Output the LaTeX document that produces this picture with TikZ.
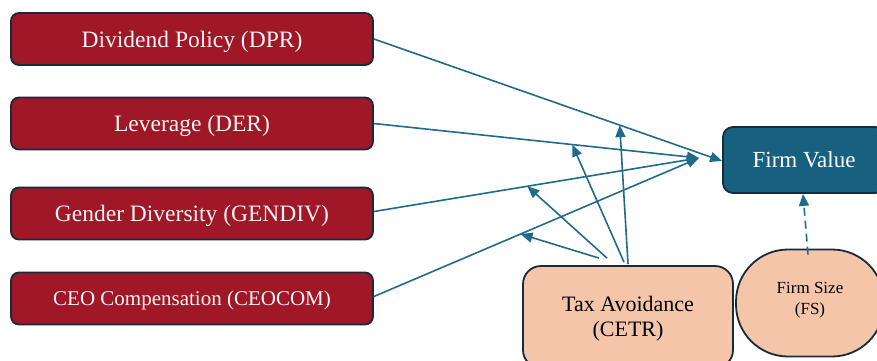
\documentclass[tikz,border=0pt]{standalone}
\usepackage{fontspec}
\setmainfont{Liberation Serif}
\usetikzlibrary{arrows.meta,positioning}

\definecolor{varred}{HTML}{A01728}
\definecolor{fvblue}{HTML}{17607F}
\definecolor{linkblue}{HTML}{1F6B8B}
\definecolor{peach}{HTML}{F5C5A9}
\definecolor{edgenavy}{HTML}{172B3B}

\tikzset{
  varbox/.style={draw=edgenavy, line width=1.8pt, fill=varred, rounded corners=8pt,
    minimum width=362pt, minimum height=52pt, text depth=0pt, text=white!95!varred,
    font=\fontsize{23.5}{27}\selectfont},
  fvbox/.style={draw=edgenavy, line width=1.8pt, fill=fvblue, rounded corners=10pt,
    minimum width=162pt, minimum height=66pt, text depth=0pt, text=white,
    font=\fontsize{23}{27}\selectfont},
  modbox/.style={draw=edgenavy, line width=1.8pt, fill=peach, align=center},
  link/.style={draw=linkblue, line width=1.6pt, -{Triangle[length=12pt,width=10pt]}},
}

\begin{document}
\begin{tikzpicture}[x=1pt, y=-1pt]

  \useasboundingbox (0,0) rectangle (877,360);

  % -- Independent variables --
  \node[varbox] (dpr) at (192,39) {Dividend Policy (DPR)};
  \node[varbox] (der) at (192,123.5) {Leverage (DER)};
  \node[varbox] (gendiv) at (192,213.5) {Gender Diversity (GENDIV)};
  \node[varbox, font=\fontsize{21}{25}\selectfont] (ceocom) at (192,298.5) {CEO Compensation (CEOCOM)};

  % -- Dependent variable --
  \node[fvbox] (fv) at (804,160) {Firm Value};
  \coordinate (fvin) at (699,158);

  % -- Moderator and control --
  \node[modbox, rounded corners=18pt, minimum width=210pt, minimum height=102pt,
    text depth=2pt, font=\fontsize{22}{25}\selectfont] (cetr) at (628,317) {Tax Avoidance\\(CETR)};
  \node[modbox, rounded corners=52pt, minimum width=148pt, minimum height=107pt,
    text depth=10pt, font=\fontsize{17}{21}\selectfont] (fs) at (810,303) {Firm Size\\(FS)};

  % Direct effects
  \draw[link] (dpr.east) -- coordinate[pos=0.706] (mdpr) ([yshift=-1pt]fv.west);
  \draw[link] (der.east) -- coordinate[pos=0.61] (mder) (fvin);
  \draw[link] ([yshift=2pt]gendiv.east) -- coordinate[pos=0.472] (mgendiv) (fvin);
  \draw[link] ([yshift=2pt]ceocom.east) -- coordinate[pos=0.451] (mceocom) (fvin);

  % Moderating effects
  \draw[link] ([yshift=1pt]cetr.north) -- (mdpr);
  \draw[link] ([xshift=-4pt,yshift=3pt]cetr.north) -- (mder);
  \draw[link] ([xshift=-21pt,yshift=7pt]cetr.north) -- (mgendiv);
  \draw[link] ([xshift=-29pt,yshift=7pt]cetr.north) -- (mceocom);

  % Control variable
  \draw[link, dash pattern=on 8pt off 5pt] ([xshift=-2pt,yshift=-6pt]fs.north) -- ([xshift=-1pt]fv.south);

\end{tikzpicture}
\end{document}
